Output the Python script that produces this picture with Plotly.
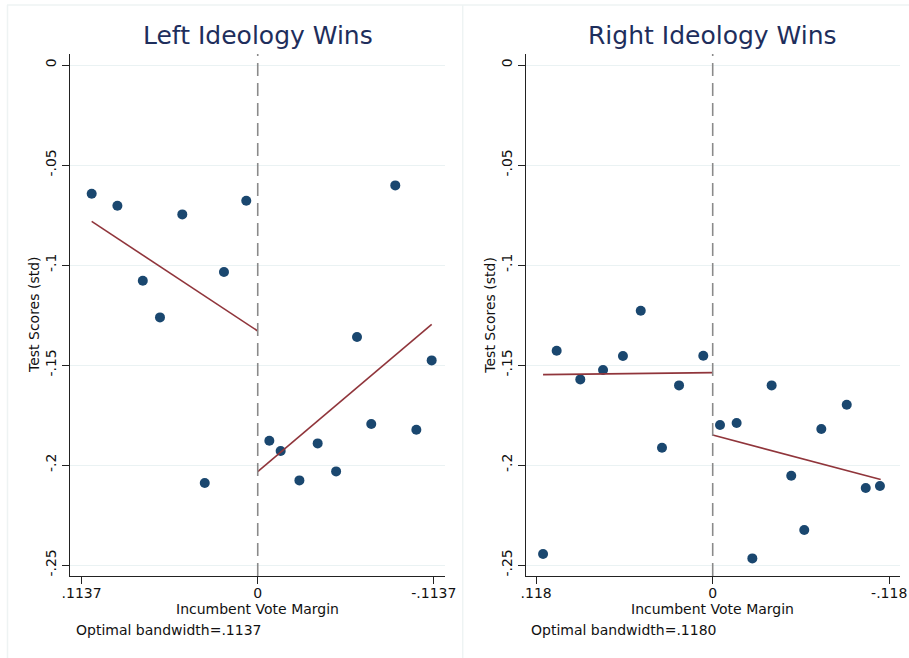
import plotly.graph_objects as go

# ---------------- data ----------------
left_x = [0.1072, 0.0906, 0.0742, 0.0631, 0.0487, 0.0342, 0.0218, 0.0074,
          -0.0075, -0.0148, -0.0269, -0.0387, -0.0506, -0.0641, -0.0733, -0.0888, -0.1024, -0.1123]
left_y = [-0.0644, -0.0704, -0.1079, -0.1262, -0.0747, -0.2090, -0.1035, -0.0679,
          -0.1879, -0.1930, -0.2077, -0.1892, -0.2032, -0.1360, -0.1795, -0.0602, -0.1824, -0.1477]
left_fit_l_x = [0.1072, 0.0]
left_fit_l_y = [-0.0782, -0.1330]
left_fit_r_x = [0.0, -0.1123]
left_fit_r_y = [-0.2033, -0.1297]

right_x = [0.1134, 0.1043, 0.0885, 0.0733, 0.0600, 0.0481, 0.0339, 0.0225, 0.0063,
           -0.0049, -0.0160, -0.0265, -0.0394, -0.0525, -0.0612, -0.0726, -0.0896, -0.1023, -0.1118]
right_y = [-0.2445, -0.1429, -0.1572, -0.1525, -0.1455, -0.1229, -0.1914, -0.1602, -0.1454,
           -0.1800, -0.1790, -0.2467, -0.1602, -0.2054, -0.2325, -0.1820, -0.1699, -0.2115, -0.2105]
right_fit_l_x = [0.1134, 0.0]
right_fit_l_y = [-0.1548, -0.1538]
right_fit_r_x = [0.0, -0.1123]
right_fit_r_y = [-0.1850, -0.2073]

y_tickvals = [0, -0.05, -0.1, -0.15, -0.2, -0.25]
y_ticktext = ["0", "-.05", "-.1", "-.15", "-.2", "-.25"]
left_bw = 0.1137
right_bw = 0.1180
left_xticktext = [".1137", "0", "-.1137"]
right_xticktext = [".118", "0", "-.118"]
titles = ["Left Ideology Wins", "Right Ideology Wins"]
notes = ["Optimal bandwidth=.1137", "Optimal bandwidth=.1180"]

# ---------------- style ----------------
W, H = 909, 658
FONT = "DejaVu Sans"
NAVY = "#1a476f"
MAROON = "#90353b"
GRID = "#eaf2f3"
TITLE_C = "#1e2e5c"
TXT = 14

def px(x):
    return x / W

def py(y):
    return 1 - y / H

fig = go.Figure()

panels = [
    dict(x=left_x, y=left_y, fl=(left_fit_l_x, left_fit_l_y), fr=(left_fit_r_x, left_fit_r_y),
         bw=left_bw, ticktext=left_xticktext, dom=(70, 445), rng=(0.1212, -0.1209),
         xa="x", ya="y"),
    dict(x=right_x, y=right_y, fl=(right_fit_l_x, right_fit_l_y), fr=(right_fit_r_x, right_fit_r_y),
         bw=right_bw, ticktext=right_xticktext, dom=(525.7, 900), rng=(0.125, -0.1252),
         xa="x2", ya="y2"),
]

y_top_px, y_bot_px = 54, 576
y_range = [-0.2555, 0.0055]

for i, p in enumerate(panels):
    fig.add_trace(go.Scatter(x=p["x"], y=p["y"], mode="markers",
                             marker=dict(color=NAVY, size=10, line=dict(width=0)),
                             xaxis=p["xa"], yaxis=p["ya"], showlegend=False, hoverinfo="skip"))
    for fx, fy in (p["fl"], p["fr"]):
        fig.add_trace(go.Scatter(x=fx, y=fy, mode="lines",
                                 line=dict(color=MAROON, width=1.6),
                                 xaxis=p["xa"], yaxis=p["ya"], showlegend=False, hoverinfo="skip"))
    # dashed cutoff line
    fig.add_trace(go.Scatter(x=[0, 0], y=y_range, mode="lines",
                             line=dict(color="#8a8a8a", width=1.6, dash="13px,7px"),
                             xaxis=p["xa"], yaxis=p["ya"], showlegend=False, hoverinfo="skip"))

    suffix = "" if i == 0 else "2"
    fig.update_layout(**{
        "xaxis" + suffix: dict(
            domain=[px(p["dom"][0]), px(p["dom"][1])], range=list(p["rng"]),
            anchor="y" + suffix, showgrid=False, zeroline=False, automargin=False,
            showline=True, linecolor="#222222", linewidth=1.2,
            ticks="outside", ticklen=7, tickwidth=1.2, tickcolor="#222222",
            tickvals=[p["bw"], 0, -p["bw"]], ticktext=p["ticktext"],
            ticklabelstandoff=-3,
            tickfont=dict(family=FONT, size=TXT, color="#111111"),
        ),
        "yaxis" + suffix: dict(
            domain=[py(y_bot_px), py(y_top_px)], range=y_range, automargin=False,
            anchor="x" + suffix, showgrid=True, gridcolor=GRID, gridwidth=1.2,
            zeroline=False, showline=True, linecolor="#222222", linewidth=1.2,
            ticks="outside", ticklen=7, tickwidth=1.2, tickcolor="#222222",
            tickvals=y_tickvals, ticktext=y_ticktext, tickangle=-90,
            tickfont=dict(family=FONT, size=TXT, color="#111111"),
        ),
    })

    cx = (p["dom"][0] + p["dom"][1]) / 2
    fig.add_annotation(x=px(cx), y=py(36), xref="paper", yref="paper", text=titles[i],
                       showarrow=False, xanchor="center", yanchor="middle",
                       font=dict(family=FONT, size=25, color=TITLE_C))
    fig.add_annotation(x=px(cx), y=py(609), xref="paper", yref="paper", text="Incumbent Vote Margin",
                       showarrow=False, xanchor="center", yanchor="middle",
                       font=dict(family=FONT, size=TXT, color="#111111"))
    fig.add_annotation(x=px(p["dom"][0] - 36), y=py((y_top_px + y_bot_px) / 2), xref="paper", yref="paper",
                       text="Test Scores (std)", textangle=-90,
                       showarrow=False, xanchor="center", yanchor="middle",
                       font=dict(family=FONT, size=TXT, color="#111111"))
    fig.add_annotation(x=px(p["dom"][0] + 3.7), y=py(629.5), xref="paper", yref="paper", text=notes[i],
                       showarrow=False, xanchor="left", yanchor="middle",
                       font=dict(family=FONT, size=TXT, color="#111111"))

# panel frames
BORDER = "#eef3f3"
fig.add_shape(type="line", xref="paper", yref="paper", x0=px(7), x1=1, y0=py(5), y1=py(5),
              line=dict(color=BORDER, width=1.5))
fig.add_shape(type="line", xref="paper", yref="paper", x0=px(7.5), x1=px(7.5), y0=py(5), y1=0,
              line=dict(color=BORDER, width=1.5))
fig.add_shape(type="line", xref="paper", yref="paper", x0=px(462.7), x1=px(462.7), y0=py(5), y1=0,
              line=dict(color=BORDER, width=1.5))

fig.update_layout(width=W, height=H, margin=dict(l=0, r=0, t=0, b=0),
                  paper_bgcolor="white", plot_bgcolor="white",
                  font=dict(family=FONT))

fig.write_html("out.html", config={"displayModeBar": False},
               post_script="document.body.style.margin='0';document.body.style.padding='0';"
                           "document.documentElement.style.overflow='hidden';")
